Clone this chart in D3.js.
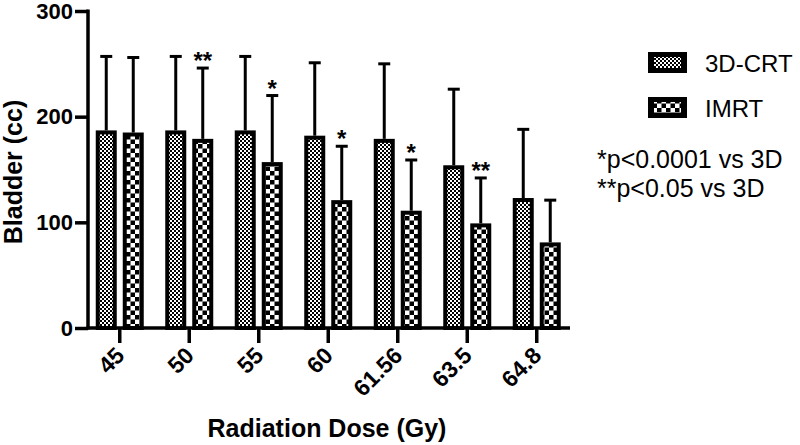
<!DOCTYPE html>
<html><head><meta charset="utf-8">
<script src="https://cdn.jsdelivr.net/npm/d3@7"></script>
<style>body{margin:0;background:#fff}svg{display:block}</style>
</head><body>
<script>
const categories = ["45","50","55","60","61.56","63.5","64.8"];
const crtMean = [187,187,187,182,179,154,123];
const crtErr  = [257,257,257,251,250,226,188];
const imrtMean= [185,179,157,121,111,99,81];
const imrtErr = [256,246,220,172,159,142,121];
const sig = ["","**","*","*","*","**",""];
const yTicks = [0,100,200,300];
const seriesNames = ["3D-CRT","IMRT"];
const notes = ["*p<0.0001 vs 3D","**p<0.05 vs 3D"];

const W=800,H=445;
const svg=d3.select("body").append("svg").attr("width",W).attr("height",H);
const defs=svg.append("defs");
function checker(id,s){
  const p=defs.append("pattern").attr("id",id).attr("patternUnits","userSpaceOnUse")
    .attr("width",2*s).attr("height",2*s);
  p.append("rect").attr("width",2*s).attr("height",2*s).attr("fill","#fff");
  p.append("rect").attr("width",s).attr("height",s).attr("fill","#000");
  p.append("rect").attr("x",s).attr("y",s).attr("width",s).attr("height",s).attr("fill","#000");
}
checker("pCRT",2);
checker("pIMRT",4.5);

const y=d3.scaleLinear().domain([0,300]).range([328,11]);
const x=d3.scaleBand().domain(categories).range([85,571.5]);
const bw=21, gap=3;
const font="'Liberation Sans', Arial, sans-serif";

function drawSeries(vals,errs,pat,offset){
  const g=svg.append("g");
  categories.forEach((c,i)=>{
    const cx=x(c)+x.bandwidth()/2;
    const x0=offset<0? cx-gap-bw : cx+gap;
    const top=y(vals[i]);
    const ex=x0+bw/2;
    g.append("line").attr("x1",ex).attr("x2",ex).attr("y1",top).attr("y2",y(errs[i]))
      .attr("stroke","#000").attr("stroke-width",3);
    g.append("line").attr("x1",ex-6).attr("x2",ex+6).attr("y1",y(errs[i])).attr("y2",y(errs[i]))
      .attr("stroke","#000").attr("stroke-width",3);
    g.append("rect").attr("x",x0+2).attr("y",top+2).attr("width",bw-4).attr("height",y(0)-top-2)
      .attr("fill","url(#"+pat+")").attr("stroke","#000").attr("stroke-width",4);
  });
}
drawSeries(crtMean,crtErr,"pCRT",-1);
drawSeries(imrtMean,imrtErr,"pIMRT",1);
categories.forEach((c,i)=>{
  if(!sig[i])return;
  const cx=x(c)+x.bandwidth()/2+gap+bw/2;
  svg.append("text").attr("x",cx).attr("y",y(imrtErr[i])+1).attr("text-anchor","middle")
    .attr("font-family",font).attr("font-size",24).attr("font-weight","bold").text(sig[i]);
});

// y axis
const ya=svg.append("g").attr("transform","translate(88,0)")
  .call(d3.axisLeft(y).tickValues(yTicks).tickSize(13).tickPadding(2).tickSizeOuter(0));
ya.select(".domain").attr("stroke-width",3.5).attr("d","M0,"+(y(300)-1.5)+"V"+(y(0)+1.5));
ya.selectAll(".tick line").attr("stroke-width",3.5);
ya.selectAll(".tick text").attr("font-family",font).attr("font-size",22).attr("font-weight","bold").attr("fill","#000");

// x axis
const xa=svg.append("g").attr("transform","translate(0,328)")
  .call(d3.axisBottom(x).tickSize(15).tickSizeOuter(0));
xa.select(".domain").attr("stroke-width",3.5).attr("d","M86.5,0H570");
xa.selectAll(".tick line").attr("stroke-width",3.5);
xa.selectAll(".tick text").attr("font-family",font).attr("font-size",23).attr("font-weight","bold").attr("fill","#000")
  .attr("text-anchor","end").attr("dy",0).attr("y",0)
  .attr("transform","translate(6,29) rotate(-45)");

// titles
svg.append("text").attr("x",327).attr("y",437).attr("text-anchor","middle")
  .attr("font-family",font).attr("font-size",25).attr("font-weight","bold").text("Radiation Dose (Gy)");
svg.append("text").attr("transform","translate(22,172) rotate(-90)").attr("text-anchor","middle")
  .attr("font-family",font).attr("font-size",25).attr("font-weight","bold").text("Bladder (cc)");

// legend
const pats=["pCRT","pIMRT"];
const legY=[52,97];
seriesNames.forEach((n,i)=>{
  svg.append("rect").attr("x",648).attr("y",legY[i]).attr("width",39).attr("height",21).attr("fill","#000");
  svg.append("rect").attr("x",654).attr("y",legY[i]+5).attr("width",27).attr("height",11).attr("fill","url(#"+pats[i]+")");
  svg.append("text").attr("x",705).attr("y",legY[i]+20).attr("font-family",font).attr("font-size",24).text(n);
});
const noteY=[168,197];
notes.forEach((t,i)=>{
  svg.append("text").attr("x",597).attr("y",noteY[i]).attr("font-family",font).attr("font-size",25).text(t);
});
</script>
</body></html>
